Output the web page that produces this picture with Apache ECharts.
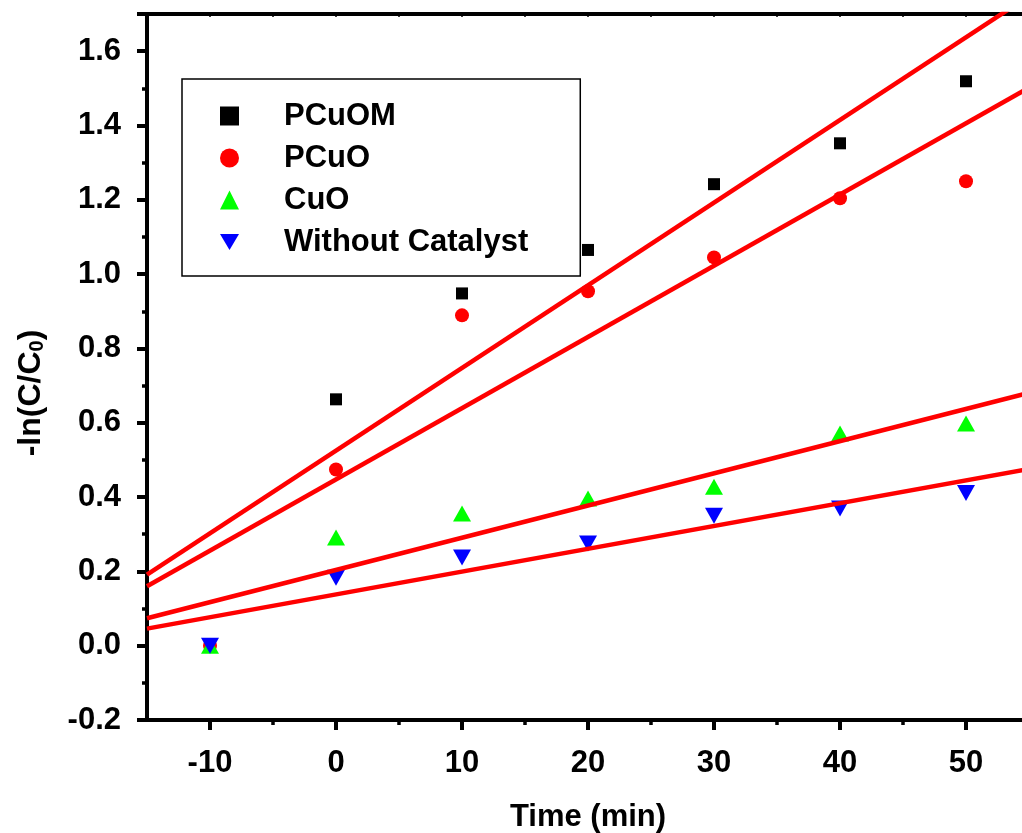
<!DOCTYPE html>
<html>
<head>
<meta charset="utf-8">
<style>
  html, body { margin: 0; padding: 0; background: #fff; }
  #chart { width: 1022px; height: 833px; }
</style>
<script src="https://cdn.jsdelivr.net/npm/echarts@6/dist/echarts.min.js"></script>
</head>
<body>
<div id="chart"></div>
<script>
// Reaction time (min) and -ln(C/C0) for each sample
const times = [-10, 0, 10, 20, 30, 40, 50];
const pcuom = [0.000, 0.663, 0.948, 1.065, 1.242, 1.352, 1.519];
const pcuo = [0.000, 0.474, 0.889, 0.954, 1.045, 1.204, 1.250];
const cuo = [0.000, 0.291, 0.356, 0.396, 0.428, 0.571, 0.598];
const noCatalyst = [0.000, 0.183, 0.237, 0.275, 0.350, 0.369, 0.411];

const seriesNames = ['PCuOM', 'PCuO', 'CuO', 'Without Catalyst'];
const xMajorTicks = [-10, 0, 10, 20, 30, 40, 50];
const xMinorTicks = [-5, 5, 15, 25, 35, 45];

const FONT = "'Liberation Sans', Arial, Helvetica, sans-serif";

// least-squares straight line through a sample's points
function linearFit(xs, ys) {
  const n = xs.length;
  const mx = xs.reduce((a, b) => a + b, 0) / n;
  const my = ys.reduce((a, b) => a + b, 0) / n;
  let sxy = 0, sxx = 0;
  for (let i = 0; i < n; i++) {
    sxy += (xs[i] - mx) * (ys[i] - my);
    sxx += (xs[i] - mx) * (xs[i] - mx);
  }
  const slope = sxy / sxx;
  return { slope, intercept: my - slope * mx };
}

const X_MIN = -15, X_MAX = 55;
function fitLine(ys) {
  const f = linearFit(times, ys);
  return [[X_MIN, f.intercept + f.slope * X_MIN], [X_MAX, f.intercept + f.slope * X_MAX]];
}
const pairs = ys => times.map((t, i) => [t, ys[i]]);

const samples = [
  { name: seriesNames[0], values: pcuom, symbol: 'rect', size: 12, color: '#000000' },
  { name: seriesNames[1], values: pcuo, symbol: 'circle', size: 14, color: '#ff0000' },
  { name: seriesNames[2], values: cuo, symbol: 'triangle', size: [18, 16], color: '#00ff00' },
  { name: seriesNames[3], values: noCatalyst, symbol: 'path://M0,0 L2,0 L1,1.7 Z', size: [18, 16], color: '#0000ff' }
];

const scatterSeries = samples.map(s => ({
  name: s.name,
  type: 'scatter',
  data: pairs(s.values),
  symbol: s.symbol,
  symbolSize: s.size,
  itemStyle: { color: s.color, opacity: 1 },
  z: 2
}));

const fitSeries = samples.map(s => ({
  name: s.name + ' fit',
  type: 'line',
  data: fitLine(s.values),
  showSymbol: false,
  symbol: 'none',
  clip: true,
  lineStyle: { color: '#ff0000', width: 4.5 },
  z: 3,
  silent: true
}));

const chart = echarts.init(document.getElementById('chart'), null, { renderer: 'canvas' });
chart.setOption({
  animation: false,
  backgroundColor: '#ffffff',
  grid: { left: 147, right: -7, top: 14, bottom: 113, containLabel: false, outerBoundsMode: 'none' },
  legend: {
    data: seriesNames,
    orient: 'vertical',
    left: 182,
    top: 79,
    itemWidth: 19,
    itemHeight: 19,
    itemGap: 0,
    padding: [16, 52, 13, 38],
    borderColor: '#000',
    borderWidth: 1.5,
    backgroundColor: '#fff',
    textStyle: {
      fontFamily: FONT, fontWeight: 'bold', fontSize: 31, color: '#000',
      lineHeight: 42, padding: [0, 0, 0, 40]
    }
  },
  xAxis: [
    {
      type: 'value', position: 'bottom', min: X_MIN, max: X_MAX, interval: 5,
      name: 'Time (min)', nameLocation: 'middle', nameGap: 82,
      nameTextStyle: { fontFamily: FONT, fontWeight: 'bold', fontSize: 31, color: '#000' },
      axisLine: { onZero: false, lineStyle: { color: '#000', width: 4 } },
      axisTick: { customValues: xMajorTicks, inside: false, length: 10, lineStyle: { color: '#000', width: 4 } },
      axisLabel: {
        customValues: xMajorTicks, margin: 28,
        fontFamily: FONT, fontWeight: 'bold', fontSize: 31, color: '#000'
      },
      splitLine: { show: false }
    },
    {
      type: 'value', position: 'bottom', min: X_MIN, max: X_MAX, interval: 5,
      axisLine: { show: false, onZero: false },
      axisTick: { customValues: xMinorTicks, inside: false, length: 5, lineStyle: { color: '#000', width: 3.5 } },
      axisLabel: { show: false },
      splitLine: { show: false }
    },
    {
      type: 'value', position: 'top', min: X_MIN, max: X_MAX, interval: 5,
      axisLine: { onZero: false, lineStyle: { color: '#000', width: 4 } },
      axisTick: { inside: true, length: 3, lineStyle: { color: '#000', width: 1.5 } },
      axisLabel: { show: false },
      splitLine: { show: false }
    }
  ],
  yAxis: {
    type: 'value', min: -0.2, max: 1.7, interval: 0.2,
    name: '{a|-ln(C/C}{s|0}{a|)}', nameLocation: 'middle', nameGap: 100,
    nameTextStyle: {
      padding: [0, 52, 0, 0],
      rich: {
        a: { fontFamily: FONT, fontWeight: 'bold', fontSize: 32, color: '#000', lineHeight: 32, verticalAlign: 'middle' },
        s: { fontFamily: FONT, fontWeight: 'bold', fontSize: 20, color: '#000', lineHeight: 4, verticalAlign: 'bottom' }
      }
    },
    axisLine: { onZero: false, lineStyle: { color: '#000', width: 4 } },
    axisTick: { inside: false, length: 10, lineStyle: { color: '#000', width: 4 } },
    minorTick: { show: true, splitNumber: 2, length: 5, lineStyle: { color: '#000', width: 3.5 } },
    axisLabel: {
      margin: 26, showMaxLabel: false,
      formatter: v => v.toFixed(1),
      fontFamily: FONT, fontWeight: 'bold', fontSize: 31, color: '#000'
    },
    splitLine: { show: false }
  },
  series: scatterSeries.concat(fitSeries)
});
</script>
</body>
</html>
